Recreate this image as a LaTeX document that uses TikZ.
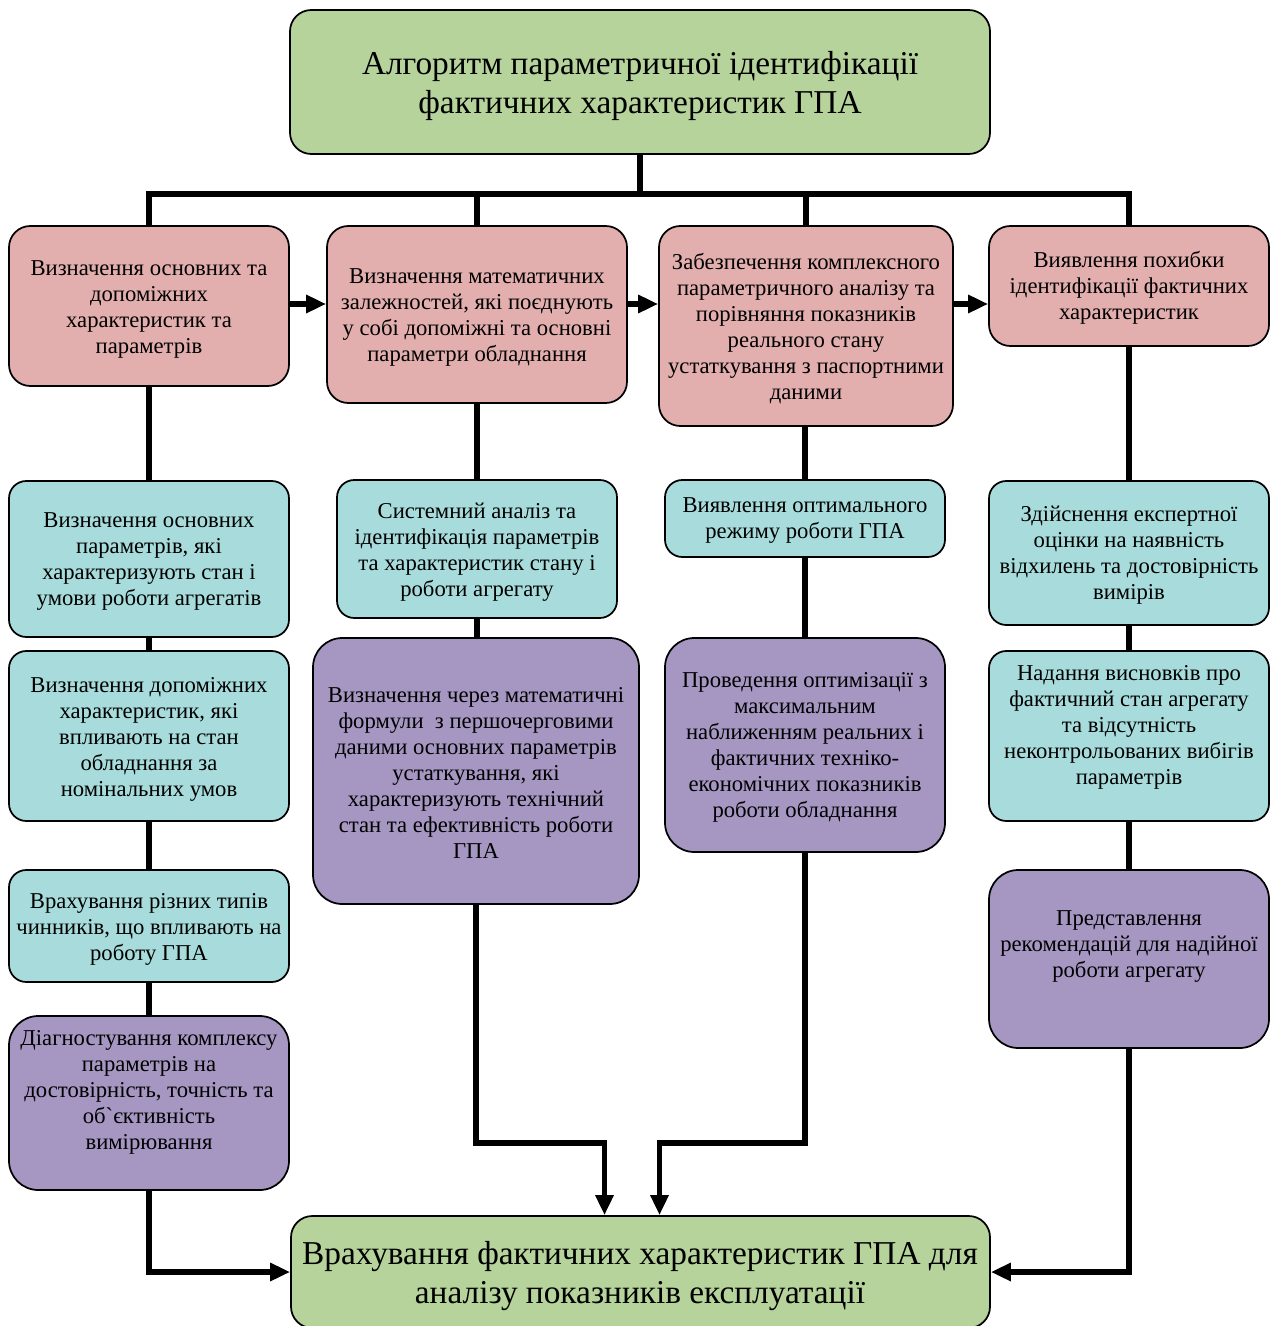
\documentclass[tikz,border=0pt]{standalone}
\usepackage{fontspec}
\setmainfont{Liberation Serif}
\usetikzlibrary{arrows.meta,fit,calc}
\definecolor{cgreen}{HTML}{B5D39B}
\definecolor{cpink}{HTML}{E2AFAE}
\definecolor{cteal}{HTML}{A8DCDC}
\definecolor{cpurp}{HTML}{A697C2}
\begin{document}
\begin{tikzpicture}[x=0.75pt,y=-0.75pt,
  box/.style={draw=black,line width=1.3pt,rounded corners=16pt,inner sep=0pt},
  pinkbox/.style={box,fill=cpink},
  tealbox/.style={box,fill=cteal,rounded corners=13pt},
  purpbox/.style={box,fill=cpurp,rounded corners=22pt},
  greenbox/.style={box,fill=cgreen,rounded corners=16pt},
  txt/.style={align=center,font=\fontsize{17}{19.5}\selectfont,inner sep=0pt},
  bigtxt/.style={align=center,font=\fontsize{25}{29.25}\selectfont,inner sep=0pt},
  conn/.style={line width=3.8pt},
  arr/.style={conn,-{Triangle[width=13pt,length=15pt]}},
]
\clip (0,0) rectangle (1272,1326);
\fill[white] (0,0) rectangle (1272,1326);

% boxes
\node[greenbox, fit={(290,10) (990,154)}] (title) {};
\node[bigtxt] (title-t) at (640,86) {Алгоритм параметричної ідентифікації\\фактичних характеристик ГПА};

\node[pinkbox, fit={(9,226) (289,386)}] (p1) {};
\node[txt] (p1-t) at (149,309) {Визначення основних та\\допоміжних\\характеристик та\\параметрів};
\node[pinkbox, fit={(327,226) (627,403)}] (p2) {};
\node[txt] (p2-t) at (477,317) {Визначення математичних\\залежностей, які поєднують\\у собі допоміжні та основні\\параметри обладнання};
\node[pinkbox, fit={(659,226) (953,426)}] (p3) {};
\node[txt] (p3-t) at (806,329) {Забезпечення комплексного\\параметричного аналізу та\\порівняння показників\\реального стану\\устаткування з паспортними\\даними};
\node[pinkbox, fit={(989,226) (1269,346)}] (p4) {};
\node[txt] (p4-t) at (1129,288) {Виявлення похибки\\ідентифікації фактичних\\характеристик};

\node[tealbox, fit={(9,481) (289,637)}] (t1a) {};
\node[txt] (t1a-t) at (149,562) {Визначення основних\\параметрів, які\\характеризують стан і\\умови роботи агрегатів};
\node[tealbox, fit={(9,651) (289,821)}] (t1b) {};
\node[txt] (t1b-t) at (149,739) {Визначення допоміжних\\характеристик, які\\впливають на стан\\обладнання за\\номінальних умов};
\node[tealbox, fit={(9,870) (289,982)}] (t1c) {};
\node[txt] (t1c-t) at (149,929) {Врахування різних типів\\чинників, що впливають на\\роботу ГПА};
\node[purpbox, fit={(9,1016) (289,1190)}] (v1) {};
\node[txt] (v1-t) at (149,1092) {Діагностування комплексу\\параметрів на\\достовірність, точність та\\об\textasciigrave єктивність\\вимірювання};

\node[tealbox, fit={(337,480) (617,618)}] (t2) {};
\node[txt] (t2-t) at (477,552) {Системний аналіз та\\ідентифікація параметрів\\та характеристик стану і\\роботи агрегату};
\node[purpbox, fit={(313,638) (639,904)}] (v2) {};
\node[txt] (v2-t) at (476,773) {Визначення через математичні\\формули~ з першочерговими\\даними основних параметрів\\устаткування, які\\характеризують технічний\\стан та ефективність роботи\\ГПА};

\node[tealbox, fit={(665,480) (945,557)}] (t3) {};
\node[txt] (t3-t) at (805,521) {Виявлення оптимального\\режиму роботи ГПА};
\node[purpbox, fit={(665,638) (945,852)}] (v3) {};
\node[txt] (v3-t) at (805,747) {Проведення оптимізації з\\максимальним\\наближенням реальних і\\фактичних техніко-\\економічних показників\\роботи обладнання};

\node[tealbox, fit={(989,481) (1269,625)}] (t4a) {};
\node[txt] (t4a-t) at (1129,555) {Здійснення експертної\\оцінки на наявність\\відхилень та достовірність\\вимірів};
\node[tealbox, fit={(989,651) (1269,821)}] (t4b) {};
\node[txt] (t4b-t) at (1129,727) {Надання висновків про\\фактичний стан агрегату\\та відсутність\\неконтрольованих вибігів\\параметрів};
\node[purpbox, fit={(989,870) (1269,1048)}] (v4) {};
\node[txt] (v4-t) at (1129,947) {Представлення\\рекомендацій для надійної\\роботи агрегату};

\node[greenbox, fit={(291,1216) (990,1328)}] (bot) {};
\node[bigtxt] (bot-t) at (640,1276) {Врахування фактичних характеристик ГПА для\\аналізу показників експлуатації};

% top bus
\coordinate (bus) at (640,194);
\draw[conn] (title.south) -- (bus);
\draw[conn] (p1.north) |- (bus) -| (p4.north);
\draw[conn] (p2.north) -- (p2.north |- bus);
\draw[conn] (p3.north) -- (p3.north |- bus);

% horizontal arrows
\draw[arr] (p1.east |- 0,304) -- (p2.west |- 0,304);
\draw[arr] (p2.east |- 0,304) -- (p3.west |- 0,304);
\draw[arr] (p3.east |- 0,304) -- (p4.west |- 0,304);

% columns
\draw[conn] (p1.south) -- (t1a.north);
\draw[conn] (t1a.south) -- (t1b.north);
\draw[conn] (t1b.south) -- (t1c.north);
\draw[conn] (t1c.south) -- (v1.north);
\draw[conn] (p2.south) -- (t2.north);
\draw[conn] (t2.south) -- (t2.south |- v2.north);
\draw[conn] (t3.north |- p3.south) -- (t3.north);
\draw[conn] (t3.south) -- (v3.north);
\draw[conn] (p4.south) -- (t4a.north);
\draw[conn] (t4a.south) -- (t4b.north);
\draw[conn] (t4b.south) -- (v4.north);

% into bottom
\draw[arr] (v1.south) |- (bot.west);
\draw[arr] (v4.south) |- (bot.east);
\draw[arr] (v2.south) -- (v2.south |- 0,1143) -| ($(bot.north)+(-36,0)$);
\draw[arr] (v3.south) -- (v3.south |- 0,1143) -| ($(bot.north)+(19,0)$);
\end{tikzpicture}
\end{document}
